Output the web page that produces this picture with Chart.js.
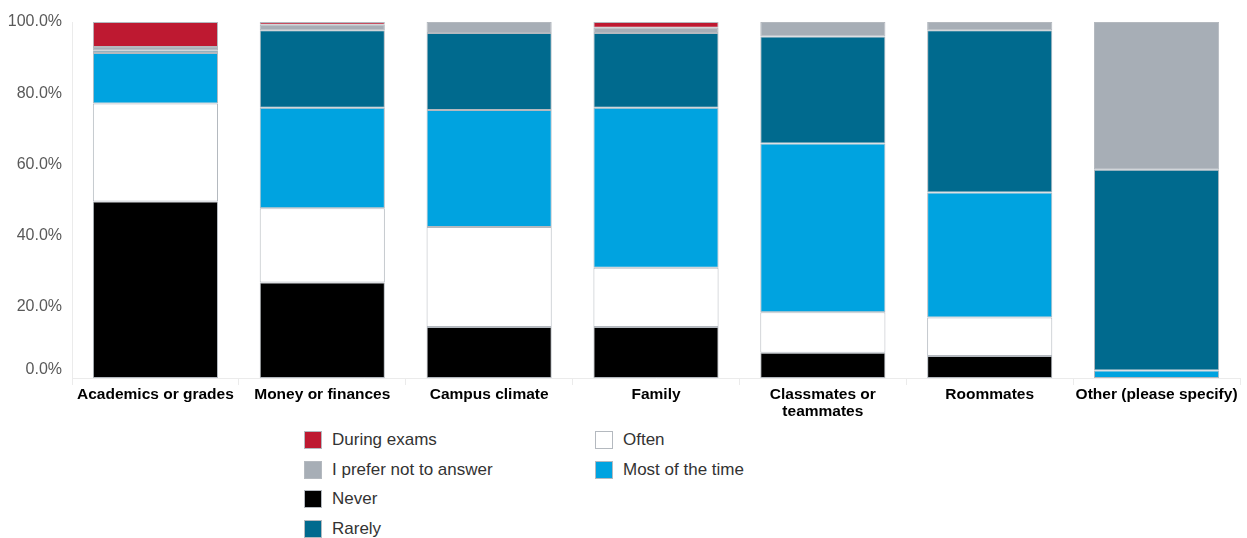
<!DOCTYPE html>
<html>
<head>
<meta charset="utf-8">
<script src="https://cdn.jsdelivr.net/npm/chart.js@4/dist/chart.umd.min.js"></script>
<style>
  html, body { margin: 0; padding: 0; background: #fff; }
  body { width: 1247px; height: 538px; position: relative; overflow: hidden; font-family: "Liberation Sans", Arial, sans-serif; }
  #wrap { position: absolute; left: 0; top: 0; width: 1247px; height: 420px; }
  #legend {
    position: absolute; left: 304px; top: 425px;
    display: grid; grid-auto-flow: column;
    grid-template-rows: repeat(4, 29.7px);
    grid-template-columns: 291px auto;
  }
  .item { display: flex; align-items: center; font-size: 17px; color: #333; }
  .box { width: 18px; height: 18px; box-sizing: border-box; border: 1px solid #b4b9bf; margin-right: 10px; }
</style>
</head>
<body>
<div id="wrap"><canvas id="stressChart"></canvas></div>
<div id="legend"></div>
<script>
// categories along the x axis ('Classmates or teammates' wraps onto two lines)
const categories = [
  'Academics or grades', 'Money or finances', 'Campus climate', 'Family',
  ['Classmates or', 'teammates'], 'Roommates', 'Other (please specify)'
];

// share of responses per category, in percent
const never       = [49.6, 26.8, 14.3, 14.3,  7.1,  6.2,  0.0];
const often       = [27.5, 20.9, 28.1, 16.7, 11.4, 10.8,  0.0];
const mostOfTime  = [14.2, 28.2, 32.9, 44.9, 47.4, 35.1,  2.1];
const rarely      = [ 0.6, 21.8, 21.6, 21.0, 30.0, 45.6, 56.4];
const noAnswer    = [ 1.1,  1.5,  3.1,  1.5,  4.1,  2.3, 41.5];
const duringExams = [ 7.0,  0.8,  0.0,  1.6,  0.0,  0.0,  0.0];

// stacked bottom to top
const series = [
  { label: 'Never', data: never, color: '#000000' },
  { label: 'Often', data: often, color: '#ffffff' },
  { label: 'Most of the time', data: mostOfTime, color: '#00a3e0' },
  { label: 'Rarely', data: rarely, color: '#006a8e' },
  { label: 'I prefer not to answer', data: noAnswer, color: '#a7aeb6' },
  { label: 'During exams', data: duringExams, color: '#be1931' }
];

// legend reads down the first column, then the second
const legendOrder = ['During exams', 'I prefer not to answer', 'Never', 'Rarely', 'Often', 'Most of the time'];

const ctx = document.getElementById('stressChart').getContext('2d');
const chart = new Chart(ctx, {
  type: 'bar',
  data: {
    labels: categories,
    datasets: series.map(s => ({
      label: s.label,
      data: s.data,
      backgroundColor: s.color,
      borderColor: '#b4b9bf',
      borderWidth: 1,
      borderSkipped: false,
      categoryPercentage: 0.75,
      barPercentage: 1.0
    }))
  },
  options: {
    responsive: true,
    maintainAspectRatio: false,
    animation: false,
    layout: { padding: { top: 22, right: 7, left: 0, bottom: 0 } },
    plugins: {
      legend: { display: false },
      tooltip: { enabled: false }
    },
    scales: {
      x: {
        stacked: true,
        grid: {
          offset: true,
          drawOnChartArea: false,
          drawTicks: true,
          tickLength: 7,
          color: '#ebebeb'
        },
        border: { color: '#ebebeb' },
        ticks: {
          color: '#000',
          padding: 1,
          maxRotation: 0,
          autoSkip: false,
          font: { family: 'Liberation Sans', size: 15.5, weight: 'bold', lineHeight: 1.1 }
        },
        afterFit: scale => { scale.height = 42; }
      },
      y: {
        stacked: true,
        min: 0,
        max: 100,
        grid: { display: false, drawTicks: false },
        border: { color: '#ebebeb' },
        ticks: {
          stepSize: 20,
          color: '#595959',
          padding: 10,
          font: { family: 'Liberation Sans', size: 16, lineHeight: 1.0 },
          // the bottom label sits a little above the baseline
          callback: v => v === 0 ? ['0.0%', ''] : v.toFixed(1) + '%'
        },
        afterFit: scale => { scale.width = 72; }
      }
    }
  }
});

// legend built from the chart's datasets
const legendEl = document.getElementById('legend');
legendOrder.forEach(name => {
  const ds = chart.data.datasets.find(d => d.label === name);
  const item = document.createElement('div');
  item.className = 'item';
  const box = document.createElement('span');
  box.className = 'box';
  box.style.background = ds.backgroundColor;
  const txt = document.createElement('span');
  txt.textContent = ds.label;
  item.appendChild(box);
  item.appendChild(txt);
  legendEl.appendChild(item);
});
</script>
</body>
</html>
